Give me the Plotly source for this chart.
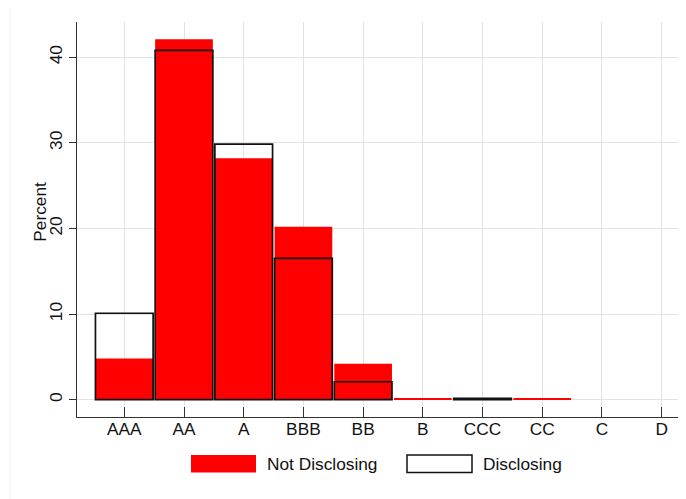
import plotly.graph_objects as go

categories = ["AAA", "AA", "A", "BBB", "BB", "B", "CCC", "CC", "C", "D"]
not_disclosing = [4.8, 42.1, 28.2, 20.2, 4.2, 0.2, 0.1, 0.2, None, None]
disclosing = [10.1, 40.8, 29.85, 16.5, 2.1, None, 0.15, None, None, None]
y_ticks = [0, 10, 20, 30, 40]

FONT = "Liberation Sans, Arial, Helvetica, sans-serif"
FS = 17.3
OFF = 8  # page body margin
W, H = 686 - OFF, 499 - OFF
# plot area in window pixels: x 77..679, y 22..417
L, R, T, B = 77 - OFF, 686 - 679, 22 - OFF, 499 - 417
pw, ph = W - L - R, H - T - B

def px(x):
    return (x - OFF - L) / pw

def py(y):
    return (H - B - (y - OFF)) / ph

xs = list(range(len(categories)))

fig = go.Figure()
fig.add_trace(go.Bar(
    x=xs, y=not_disclosing, name="Not Disclosing", width=0.966,
    marker=dict(color="#ff0000", line=dict(width=0)), showlegend=False,
))
fig.add_trace(go.Bar(
    x=xs, y=disclosing, name="Disclosing", width=0.966,
    marker=dict(color="rgba(0,0,0,0)", line=dict(color="#111111", width=1.7)),
    showlegend=False,
))

shapes = [
    dict(type="rect", xref="paper", yref="paper",
         x0=px(10), x1=px(700), y0=py(510), y1=py(4.5),
         line=dict(color="#f0f0f0", width=1), fillcolor="rgba(0,0,0,0)", layer="below"),
    dict(type="rect", xref="paper", yref="paper",
         x0=px(191), x1=px(256), y0=py(472.5), y1=py(455),
         line=dict(width=0), fillcolor="#ff0000"),
    dict(type="rect", xref="paper", yref="paper",
         x0=px(407), x1=px(472), y0=py(472.5), y1=py(455),
         line=dict(color="#111111", width=1.5), fillcolor="white"),
]
annotations = [
    dict(text="Not Disclosing", xref="paper", yref="paper", x=px(265), y=py(464),
         xanchor="left", yanchor="middle", showarrow=False,
         font=dict(family=FONT, size=FS, color="#111111")),
    dict(text="Disclosing", xref="paper", yref="paper", x=px(481), y=py(464),
         xanchor="left", yanchor="middle", showarrow=False,
         font=dict(family=FONT, size=FS, color="#111111")),
    dict(text="Percent", xref="paper", yref="paper", x=px(40), y=py(211.7),
         xanchor="center", yanchor="middle", showarrow=False, textangle=-90,
         font=dict(family=FONT, size=FS, color="#111111")),
]

fig.update_layout(
    width=W, height=H,
    margin=dict(l=L, r=R, t=T, b=B, autoexpand=False),
    barmode="overlay",
    paper_bgcolor="white", plot_bgcolor="white",
    font=dict(family=FONT, size=FS, color="#111111"),
    shapes=shapes, annotations=annotations,
    showlegend=False,
)
fig.update_xaxes(
    range=[-0.792, 9.29],
    tickmode="array", tickvals=xs, ticktext=categories,
    showgrid=True, gridcolor="#e3e3e3", gridwidth=1,
    showline=True, linecolor="#333333", linewidth=1.3,
    ticks="inside", ticklen=10, tickcolor="#333333", tickwidth=1.3,
    ticklabelstandoff=-4,
    zeroline=False, fixedrange=True,
)
fig.update_yaxes(
    range=[-2.02, 44.12],
    tickmode="array", tickvals=y_ticks, ticktext=[str(v) for v in y_ticks],
    tickangle=-90,
    showgrid=True, gridcolor="#e3e3e3", gridwidth=1,
    showline=True, linecolor="#333333", linewidth=1.3,
    ticks="outside", ticklen=7, tickcolor="#333333", tickwidth=1.3,
    zeroline=False, fixedrange=True,
)

fig.write_html("out.html")
